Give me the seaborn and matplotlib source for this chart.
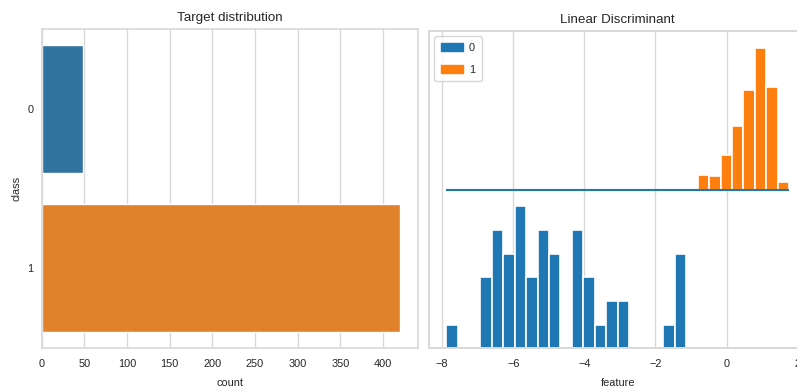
"""
Class balance and a 1-D linear discriminant projection, side by side.
Left: number of samples per class. Right: histogram of the projected
feature per class (class 0 below the line, class 1 above it).
"""
import matplotlib

matplotlib.use("Agg")
import matplotlib.pyplot as plt
import numpy as np
import pandas as pd
import seaborn as sns
from matplotlib.patches import Patch


# ---- data ------------------------------------------------------------------
CLASSES = ["0", "1"]
CLASS_COUNTS = [49, 420]

# projected feature range and number of histogram bins
FEATURE_MIN = -7.89
FEATURE_MAX = 1.76
N_BINS = 30

# counts per bin, leftmost bin first
COUNTS_CLASS0 = [1, 0, 0, 3, 5, 4, 6, 3, 5, 4,
                 0, 5, 3, 1, 2, 2, 0, 0, 0, 1,
                 4, 0, 0, 0, 0, 0, 0, 0, 0, 0]
COUNTS_CLASS1 = [0, 0, 0, 0, 0, 0, 0, 0, 0, 0,
                 0, 0, 0, 1, 0, 0, 0, 0, 0, 0,
                 0, 0, 13, 12, 30, 56, 87, 124, 90, 7]

BLUE = "#1f77b4"
ORANGE = "#ff7f0e"


def set_style() -> None:
    sns.set_theme(style="whitegrid", palette="tab10")
    plt.rcParams.update({
        "font.family": ["Liberation Sans", "DejaVu Sans"],
        "axes.titlesize": 9.6,
        "axes.labelsize": 7.9,
        "xtick.labelsize": 7.9,
        "ytick.labelsize": 7.9,
        "legend.fontsize": 7.8,
        "xtick.major.size": 0,
        "ytick.major.size": 0,
        "xtick.major.pad": 7.8,
        "ytick.major.pad": 6,
        "axes.edgecolor": ".85",
        "grid.color": ".85",
        "figure.dpi": 100,
    })


def target_panel(ax: plt.Axes) -> None:
    df = pd.DataFrame({"class": CLASSES, "count": CLASS_COUNTS})
    sns.barplot(data=df, x="count", y="class", hue="class", legend=False,
                errorbar=None, ax=ax)
    ax.set_xticks(np.arange(0, 401, 50))
    ax.set_title("Target distribution")
    ax.set_xlabel("count", labelpad=6.5)
    ax.set_ylabel("class", labelpad=4)


def discriminant_panel(ax: plt.Axes) -> None:
    edges = np.linspace(FEATURE_MIN, FEATURE_MAX, N_BINS + 1)
    hist = pd.DataFrame({
        "feature": (edges[:-1] + edges[1:]) / 2,
        "n0": COUNTS_CLASS0,
        "n1": COUNTS_CLASS1,
    })

    sns.histplot(data=hist, x="feature", weights="n0", bins=list(edges),
                 color=BLUE, alpha=1, edgecolor="white", linewidth=1.2, ax=ax)
    ax.set_ylim(0, 13.4)

    ax2 = ax.twinx()
    sns.histplot(data=hist, x="feature", weights="n1", bins=list(edges),
                 color=ORANGE, alpha=1, edgecolor="white", linewidth=1.2,
                 ax=ax2)
    ax2.hlines(0, FEATURE_MIN, FEATURE_MAX, color=BLUE, linewidth=1.5,
               zorder=4)
    ax2.set_ylim(-139, 139)

    for a in (ax, ax2):
        a.set_yticks([])
        a.set_ylabel("")
        a.yaxis.grid(False)
    ax2.xaxis.grid(False)
    ax.set_xlim(-8.37, 2.24)
    ax.set_xticks(np.arange(-8, 3, 2))
    ax.set_xlabel("feature", labelpad=6.5)
    ax.set_title("Linear Discriminant")

    handles = [Patch(color=BLUE, label="0"), Patch(color=ORANGE, label="1")]
    ax2.legend(handles=handles, loc="upper left", labelspacing=1.1,
               borderpad=0.6, handletextpad=0.6)


def main() -> None:
    set_style()
    fig = plt.figure(figsize=(7.97, 3.92), dpi=100)
    ax_left = fig.add_axes([0.0523, 0.1130, 0.4722, 0.8122])
    ax_right = fig.add_axes([0.5383, 0.1110, 0.4733, 0.8099])
    target_panel(ax_left)
    discriminant_panel(ax_right)
    fig.savefig("out.png", dpi=100, facecolor="white")


if __name__ == "__main__":
    main()
